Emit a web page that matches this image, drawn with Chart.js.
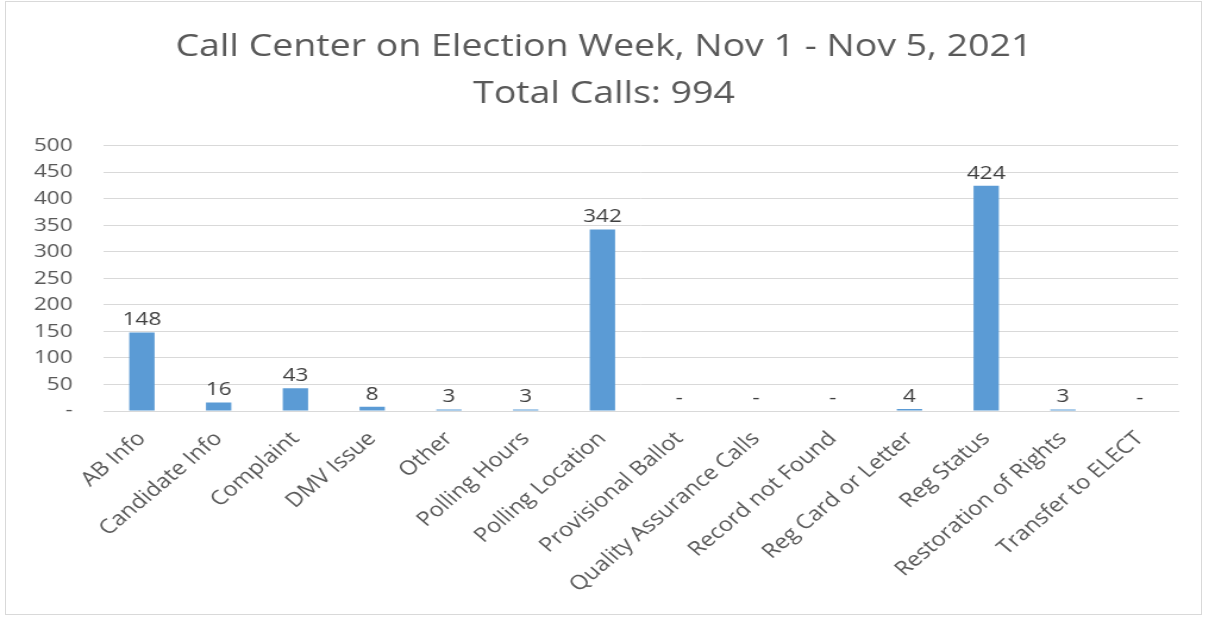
<!DOCTYPE html>
<html>
<head>
<meta charset="utf-8">
<script src="https://cdn.jsdelivr.net/npm/chart.js@4"></script>
<style>
    body { margin: 0; background: #fff; overflow: hidden; }
    #wrap { position: relative; width: 1208px; height: 618px; overflow: hidden; }
    /* the reference is stretched sideways, so the canvas is too */
    #callChart { position: absolute; left: 0; top: 0; transform: scaleX(1.19); transform-origin: 0 0; }
    #frame { position: absolute; left: 5px; top: 1px; width: 1197px; height: 614px; border: 1px solid #d9d9d9; box-sizing: border-box; pointer-events: none; }
</style>
</head>
<body>
<div id="wrap">
    <canvas id="callChart" width="1015" height="618"></canvas>
    <div id="frame"></div>
</div>
<script>
const categories = ['AB Info', 'Candidate Info', 'Complaint', 'DMV Issue', 'Other', 'Polling Hours',
    'Polling Location', 'Provisional Ballot', 'Quality Assurance Calls', 'Record not Found',
    'Reg Card or Letter', 'Reg Status', 'Restoration of Rights', 'Transfer to ELECT'];
const calls = [148, 16, 43, 8, 3, 3, 342, 0, 0, 0, 4, 424, 3, 0];
const titleLines = ['Call Center on Election Week, Nov 1 - Nov 5, 2021', 'Total Calls: 994'];

const FONT = '"Open Sans", sans-serif';

// draw the value above each bar, "-" for zero
const valueLabels = {
    id: 'valueLabels',
    afterDatasetsDraw(chart) {
        const ctx = chart.ctx;
        const meta = chart.getDatasetMeta(0);
        ctx.save();
        ctx.font = '19px ' + FONT;
        ctx.fillStyle = '#404040';
        ctx.textAlign = 'center';
        ctx.textBaseline = 'bottom';
        meta.data.forEach(function(bar, i) {
            const v = calls[i];
            ctx.fillText(v === 0 ? '-' : String(v), bar.x, bar.y - 3);
        });
        ctx.restore();
    }
};

const ctx = document.getElementById('callChart').getContext('2d');
new Chart(ctx, {
    type: 'bar',
    data: {
        labels: categories,
        datasets: [{
            data: calls,
            backgroundColor: '#5b9bd5',
            barPercentage: 0.33,
            categoryPercentage: 1
        }]
    },
    options: {
        responsive: false,
        animation: false,
        layout: { padding: { left: 25, right: 25, top: 0, bottom: 0 } },
        plugins: {
            legend: { display: false },
            tooltip: { enabled: false },
            title: {
                display: true,
                text: titleLines,
                color: '#595959',
                font: { family: FONT, size: 31.5, weight: 'normal', lineHeight: 1.5 },
                padding: { top: 23, bottom: 28 }
            }
        },
        scales: {
            y: {
                min: 0,
                max: 500,
                afterFit: function(scale) { scale.width = 62; },
                border: { display: false },
                grid: { color: '#d9d9d9', drawTicks: false, lineWidth: 1 },
                ticks: {
                    stepSize: 50,
                    padding: 26,
                    color: '#595959',
                    font: { family: FONT, size: 19 },
                    callback: function(v) { return v === 0 ? '-' : v; }
                }
            },
            x: {
                afterFit: function(scale) { scale.height = 207; },
                border: { color: '#d9d9d9' },
                grid: { display: false },
                ticks: {
                    minRotation: 45,
                    maxRotation: 45,
                    autoSkip: false,
                    padding: 8,
                    color: '#595959',
                    font: { family: FONT, size: 20 }
                }
            }
        }
    },
    plugins: [valueLabels]
});
</script>
</body>
</html>
